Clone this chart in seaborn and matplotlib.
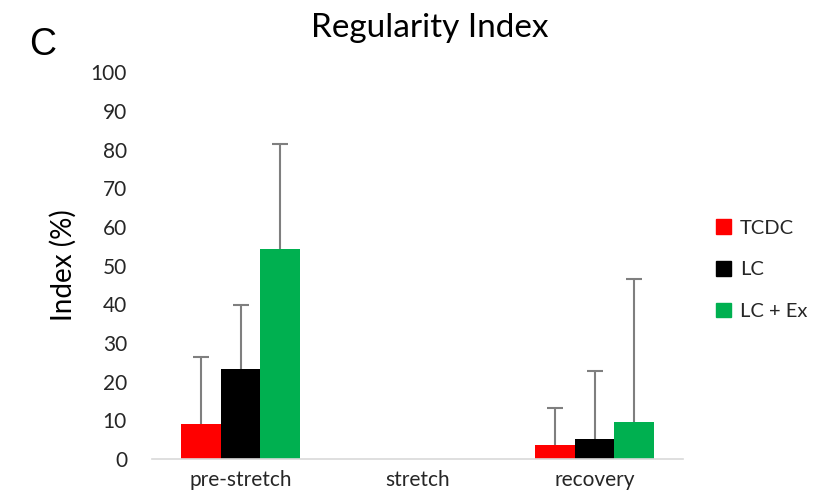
import numpy as np
import pandas as pd
import matplotlib
matplotlib.use("Agg")
import matplotlib.pyplot as plt
import seaborn as sns
from matplotlib.patches import Patch

# Mean regularity index (%) per phase and group, with upper error (SD) values
phases = ["pre-stretch", "stretch", "recovery"]
groups = ["TCDC", "LC", "LC + Ex"]
tcdc_mean = [9.0, 0.0, 3.5]
lc_mean = [23.2, 0.0, 5.2]
lcex_mean = [54.2, 0.0, 9.5]
tcdc_sd = [17.4, np.nan, 9.7]
lc_sd = [16.7, np.nan, 17.6]
lcex_sd = [27.2, np.nan, 37.1]
y_ticks = list(range(0, 101, 10))

colors = ["#FF0000", "#000000", "#00B050"]

means = [tcdc_mean, lc_mean, lcex_mean]
sds = [tcdc_sd, lc_sd, lcex_sd]
df = pd.DataFrame({
    "phase": [p for _ in groups for p in phases],
    "group": [g for g in groups for _ in phases],
    "value": [v for m in means for v in m],
})

sns.set_theme(style="white")
plt.rcParams["font.family"] = ["Lato", "DejaVu Sans"]

fig = plt.figure(figsize=(8.19, 5.01), dpi=100)
ax = fig.add_axes([0.1856, 0.0838, 0.6484, 0.7722])

sns.barplot(data=df, x="phase", y="value", hue="group", order=phases,
            hue_order=groups, palette=colors, errorbar=None, width=0.67,
            gap=0, saturation=1, legend=False, linewidth=0, ax=ax)

# Upper-only error bars: a stem from the bar top plus a single cap
for cont, sd in zip(ax.containers, sds):
    for bar, e in zip(cont, sd):
        if np.isnan(e):
            continue
        x = bar.get_x() + bar.get_width() / 2
        h = bar.get_height()
        ax.vlines(x, h, h + e, color="#7F7F7F", linewidth=1.5, zorder=3)
        ax.plot([x], [h + e], marker="_", markersize=11, markeredgewidth=1.5,
                color="#7F7F7F", zorder=3)

ax.set_ylim(0, 100)
ax.set_xlim(-0.5, 2.5)
ax.set_yticks(y_ticks)
ax.set_yticklabels([str(t) for t in y_ticks], fontsize=15, color="#262626")
ax.tick_params(axis="x", labelsize=15, colors="#262626", length=0, pad=8)
ax.tick_params(axis="y", length=0, pad=18)
ax.set_xlabel("")
ax.set_ylabel("Index (%)", fontsize=20, color="#000000", labelpad=10)

for side in ["top", "right", "left"]:
    ax.spines[side].set_visible(False)
ax.spines["bottom"].set_color("#D9D9D9")
ax.spines["bottom"].set_linewidth(1.2)

fig.text(0.525, 0.945, "Regularity Index", ha="center", va="center",
         fontsize=24, color="#000000")
fig.text(0.035, 0.91, "C", ha="left", va="center", fontsize=27,
         family=["Liberation Sans", "DejaVu Sans"], color="#000000")

handles = [Patch(facecolor=c, edgecolor=c) for c in colors]
fig.legend(handles, groups, loc="upper left", bbox_to_anchor=(0.874, 0.562),
           frameon=False, fontsize=14.5, handlelength=0.75, handleheight=0.75,
           handletextpad=0.45, labelspacing=1.2, borderaxespad=0, borderpad=0)

fig.savefig("out.png", dpi=100)
